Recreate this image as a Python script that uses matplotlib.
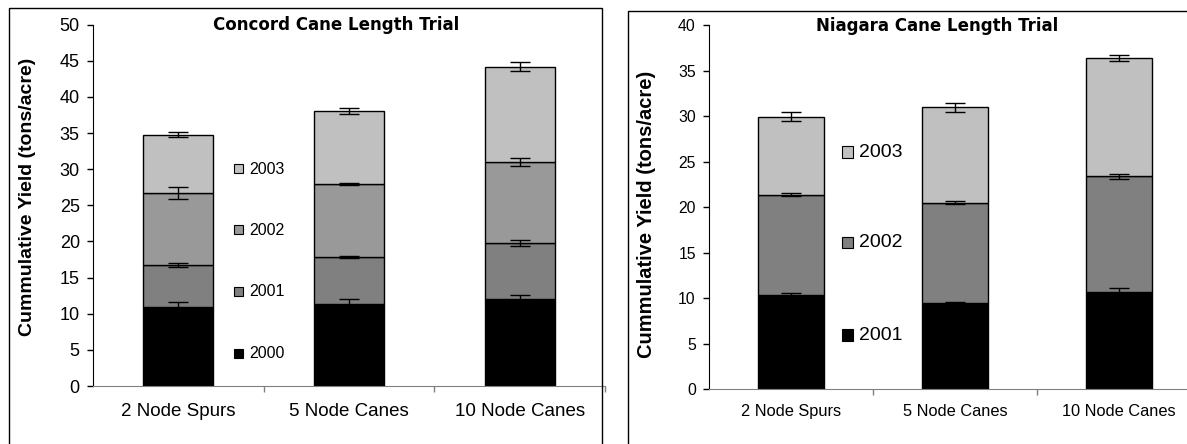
import numpy as np
import matplotlib
matplotlib.use("Agg")
import matplotlib.pyplot as plt
from matplotlib.patches import Rectangle

plt.rcParams['font.family'] = ['Liberation Sans', 'DejaVu Sans']

categories = ["2 Node Spurs", "5 Node Canes", "10 Node Canes"]

# Concord: yield added each year (tons/acre) and error at the cumulative top
concord_years = ["2000", "2001", "2002", "2003"]
concord_yield = [
    [10.9, 11.3, 12.1],
    [5.8, 6.6, 7.7],
    [10.0, 10.0, 11.2],
    [8.1, 10.2, 13.2],
]
concord_err = [
    [0.75, 0.75, 0.5],
    [0.3, 0.15, 0.4],
    [0.8, 0.15, 0.6],
    [0.3, 0.4, 0.6],
]
concord_colors = ["#000000", "#808080", "#999999", "#c0c0c0"]

# Niagara
niagara_years = ["2001", "2002", "2003"]
niagara_yield = [
    [10.3, 9.45, 10.65],
    [11.1, 11.05, 12.75],
    [8.55, 10.5, 13.05],
]
niagara_err = [
    [0.25, 0.1, 0.45],
    [0.15, 0.15, 0.3],
    [0.5, 0.5, 0.35],
]
niagara_colors = ["#000000", "#808080", "#c0c0c0"]

W, H = 1187, 444


def fx(x):
    return x / W


def fy(y):
    return 1 - y / H


fig = plt.figure(figsize=(W / 100, H / 100), dpi=100)
fig.patch.set_facecolor("white")

# outer chart frames
fig.patches.append(Rectangle((fx(9), fy(470)), fx(601.7) - fx(9), fy(8.3) - fy(470),
                             transform=fig.transFigure, fill=False, ec="black", lw=1))
fig.patches.append(Rectangle((fx(628.3), fy(470)), fx(1220) - fx(628.3), fy(10.7) - fy(470),
                             transform=fig.transFigure, fill=False, ec="black", lw=1))


def stacked(ax, yields, errs, colors, width, ymax, tick_fs, lab_pad):
    x = np.arange(len(categories))
    bottom = np.zeros(len(categories))
    for vals, err, c in zip(yields, errs, colors):
        vals = np.array(vals)
        ax.bar(x, vals, width, bottom=bottom, color=c, edgecolor="black", lw=1, zorder=2)
        bottom = bottom + vals
        ax.errorbar(x, bottom, yerr=err, fmt="none", ecolor="black", elinewidth=1,
                    capsize=7.5, capthick=1, zorder=3)
    ax.set_xlim(-0.5, len(categories) - 0.5)
    ax.set_ylim(0, ymax)
    ax.set_yticks(np.arange(0, ymax + 1, 5))
    ax.set_xticks([0.5, 1.5, 2.5])
    ax.set_xticklabels([])
    ax.set_xticks(x, minor=True)
    ax.set_xticklabels(categories, minor=True, fontsize=tick_fs)
    ax.tick_params(axis="x", which="minor", length=0, pad=lab_pad)
    ax.tick_params(axis="x", which="major", length=4.5, width=1, color="#808080", direction="out")
    ax.tick_params(axis="y", length=4.5, width=1, direction="out", labelsize=tick_fs - 0.5, pad=5)
    for s in ["top", "right"]:
        ax.spines[s].set_visible(False)
    ax.spines["bottom"].set_color("#808080")
    ax.spines["left"].set_color("black")


def legend(labels, colors, x_sq, x_txt, ys, sq, fs):
    for lab, c, y in zip(labels, colors, ys):
        fig.patches.append(Rectangle((fx(x_sq - sq / 2), fy(y + sq / 2)), sq / W, sq / H,
                                     transform=fig.transFigure, fc=c, ec="black", lw=0.8))
        fig.text(fx(x_txt), fy(y), lab, fontsize=fs, ha="left", va="center")


# Concord panel
ax1 = fig.add_axes([fx(93), fy(386), (605 - 93) / W, (386 - 24.7) / H])
stacked(ax1, concord_yield, concord_err, concord_colors, 0.41, 50, 13.5, 12)
fig.text(fx(336), fy(25), "Concord Cane Length Trial", fontsize=12, fontweight="bold",
         family="DejaVu Sans", ha="center", va="center")
fig.text(fx(27.5), fy(197), "Cummulative Yield (tons/acre)", fontsize=14, fontweight="bold",
         rotation=90, ha="center", va="center")
legend(concord_years, concord_colors, 238.7, 249, [353.3, 291.7, 230, 169], 9, 11.5)

# Niagara panel
ax2 = fig.add_axes([fx(709), fy(389), (1201 - 709) / W, (389 - 25.5) / H])
stacked(ax2, niagara_yield, niagara_err, niagara_colors, 0.40, 40, 11.8, 10.5)
fig.text(fx(937), fy(26), "Niagara Cane Length Trial", fontsize=12, fontweight="bold",
         family="DejaVu Sans", ha="center", va="center")
fig.text(fx(646), fy(214), "Cummulative Yield (tons/acre)", fontsize=14.5, fontweight="bold",
         rotation=90, ha="center", va="center")
legend(niagara_years, niagara_colors, 847.5, 859, [335, 242.3, 152], 11.5, 14)

fig.savefig("out.png", dpi=100)
